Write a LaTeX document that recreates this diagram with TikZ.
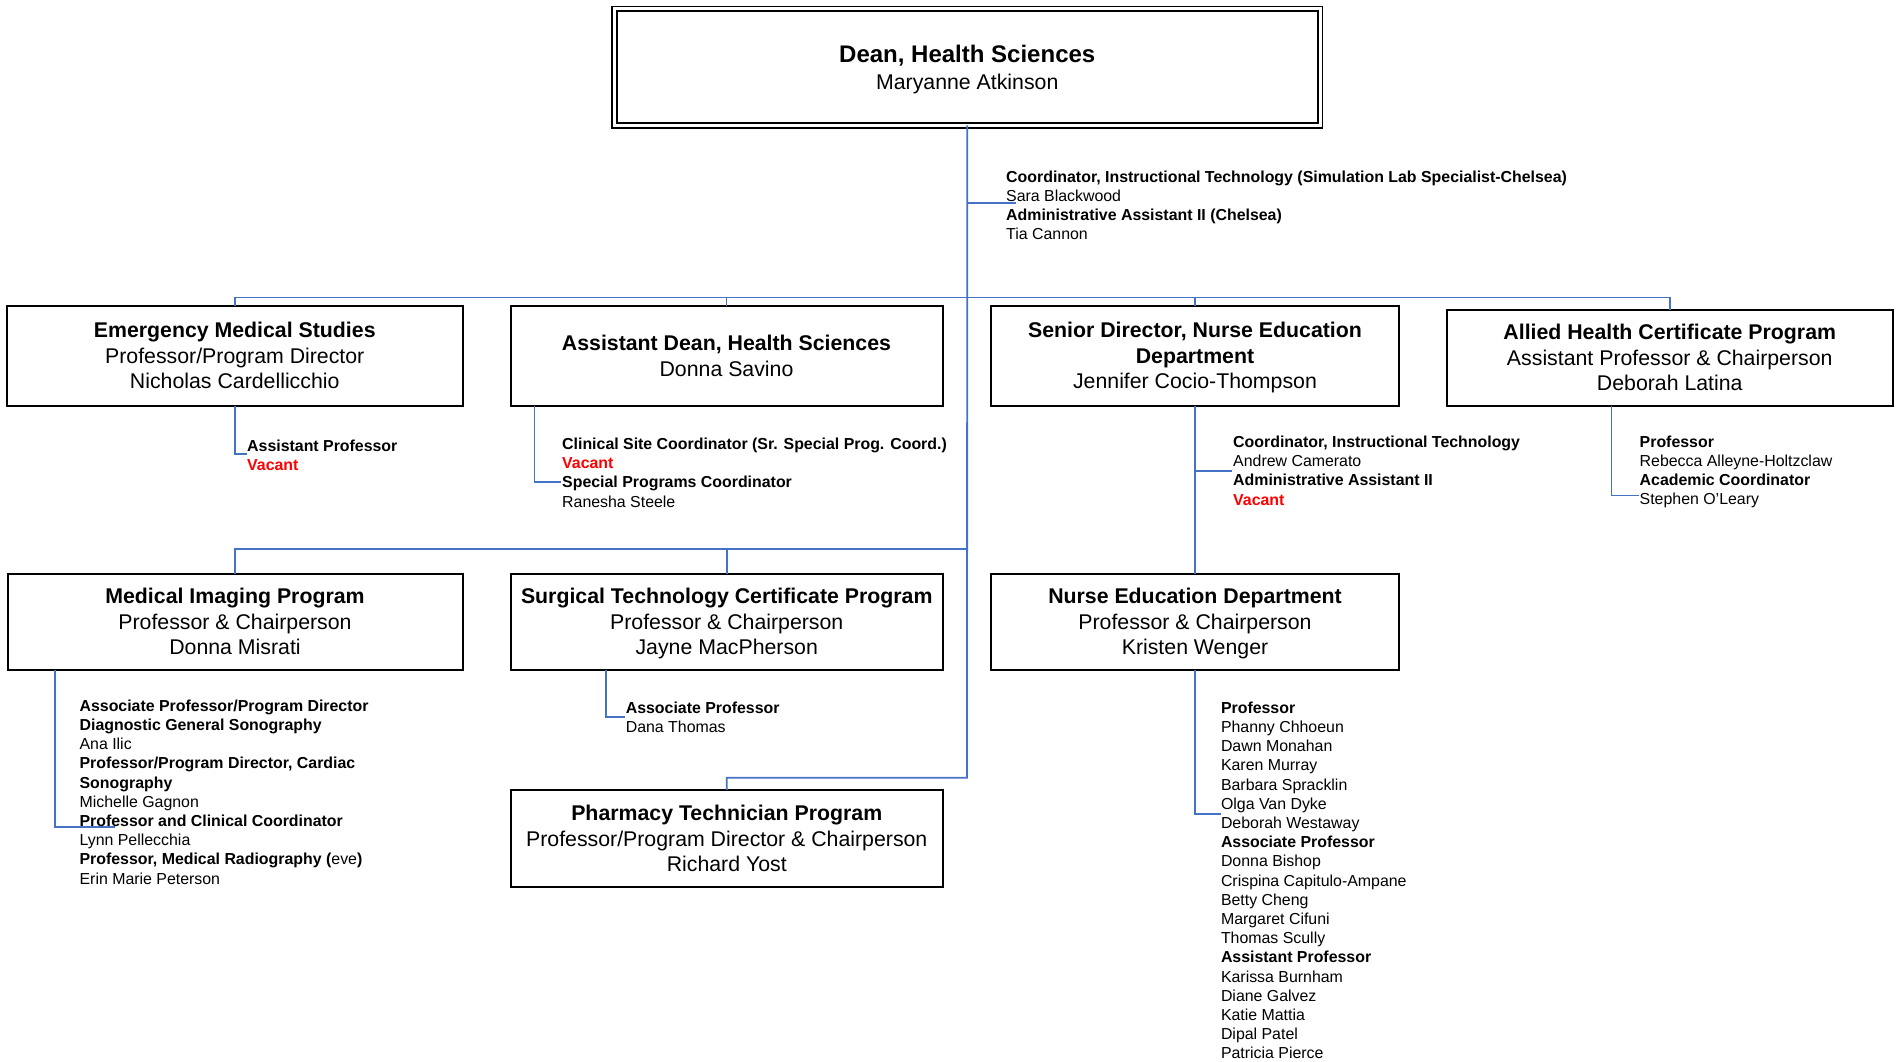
\documentclass[tikz,border=0pt]{standalone}
\usepackage{fontspec}
\setmainfont{Liberation Sans}
\definecolor{connblue}{HTML}{4472C4}
\definecolor{vred}{HTML}{FF0000}
\newcommand{\vac}{\textcolor{vred}{\textbf{Vacant}}}
\newcommand{\zdLine}[1]{\raisebox{0pt}[\height][0pt]{#1}}
\begin{document}
\begin{tikzpicture}[x=1pt,y=-1pt,
  box/.style={draw=black, line width=2pt, rectangle, inner sep=0pt, outer sep=0pt, anchor=north west, align=center, font=\fontsize{21.3}{25.5}\selectfont},
  sm/.style={inner sep=0pt, anchor=base west, align=left, font=\fontsize{15.9}{19.2}\selectfont},
  link/.style={draw=connblue, line width=1.8pt},
]
\useasboundingbox (0,0) rectangle (1897,1062);

% boxes
\node[box, double, double distance=3pt, line width=1.8pt, minimum width=705.5pt, minimum height=116.3pt, font=\fontsize{21.3}{26.7}\selectfont] (dean) at (614.5,9)
  {{\fontsize{24}{26.7}\selectfont\bfseries Dean, Health Sciences}\\\zdLine{Maryanne Atkinson}};
\node[box, minimum width=455.5pt, minimum height=99.5pt] (ems) at (7,306)
  {\textbf{Emergency Medical Studies}\\Professor/Program Director\\\zdLine{Nicholas Cardellicchio}};
\node[box, minimum width=432pt, minimum height=99.5pt] (adean) at (510.5,306)
  {\textbf{Assistant Dean, Health Sciences}\\\zdLine{Donna Savino}};
\node[box, minimum width=408pt, minimum height=99.5pt] (sdir) at (991,306)
  {\textbf{Senior Director, Nurse Education}\\\textbf{Department}\\\zdLine{Jennifer Cocio-Thompson}};
\node[box, minimum width=445.5pt, minimum height=95.5pt] (allied) at (1447,310)
  {\textbf{Allied Health Certificate Program}\\Assistant Professor \& Chairperson\\\zdLine{Deborah Latina}};
\node[box, minimum width=455pt, minimum height=95.5pt] (mi) at (7.5,574)
  {\textbf{Medical Imaging Program}\\Professor \& Chairperson\\\zdLine{Donna Misrati}};
\node[box, minimum width=431.5pt, minimum height=95.5pt] (surg) at (511,574)
  {\textbf{Surgical Technology Certificate Program}\\Professor \& Chairperson\\\zdLine{Jayne MacPherson}};
\node[box, minimum width=408pt, minimum height=95.5pt] (nurse) at (991,574)
  {\textbf{Nurse Education Department}\\Professor \& Chairperson\\\zdLine{Kristen Wenger}};
\node[box, minimum width=431.5pt, minimum height=97pt] (pharm) at (511,790)
  {\textbf{Pharmacy Technician Program}\\Professor/Program Director \& Chairperson\\\zdLine{Richard Yost}};

% junction coordinates
\coordinate (b1) at (967,297.5);
\coordinate (b2) at (967,549.3);
\coordinate (pj) at (967,777.7);
\coordinate (deanE) at (1016,202.7);
\coordinate (sdirE) at (1232,471);
\coordinate (emsE) at (247,453.7);
\coordinate (adeanE) at (561,482);
\coordinate (alliedE) at (1639,495.5);
\coordinate (miE) at (115,827);
\coordinate (surgE) at (625,717.3);
\coordinate (nurseE) at (1221,814);

% connectors
\draw[link] (dean.south) -- (pj) -| (pharm.north);
\draw[link] (ems.north) |- (allied.north |- b1) -- (allied.north);
\draw[link] (adean.north) -- (adean.north |- b1);
\draw[link] (sdir.north) -- (sdir.north |- b1);
\draw[link] (mi.north) |- (b2);
\draw[link] (surg.north) -- (surg.north |- b2);
\draw[link] (sdir.south) -- (nurse.north);
\draw[link] (deanE -| dean.south) -- (deanE);
\draw[link] (sdirE -| sdir.south) -- (sdirE);
\draw[link] (ems.south) |- (emsE);
\draw[link] (adean.south west) ++(24,0) |- (adeanE);
\draw[link] (allied.south west) ++(164.5,0) |- (alliedE);
\draw[link] (mi.south west) ++(47.5,0) |- (miE);
\draw[link] (surg.south west) ++(95,0) |- (surgE);
\draw[link] (nurse.south) |- (nurseE);

% staff lists (base anchor = baseline of last line)
\node[sm] (deanS) at (1006,239.8)
  {\textbf{Coordinator, Instructional Technology (Simulation Lab Specialist-Chelsea)}\\Sara Blackwood\\\textbf{Administrative Assistant II (Chelsea)}\\Tia Cannon};
\node[sm] (emsS) at (247,470.4)
  {\textbf{Assistant Professor}\\\vac};
\node[sm] (adeanS) at (562,507.1)
  {\textbf{Clinical Site Coordinator (Sr. Special Prog. Coord.)}\\\vac\\\textbf{Special Programs Coordinator}\\Ranesha Steele};
\node[sm] (sdirS) at (1233,505.1)
  {\textbf{Coordinator, Instructional Technology}\\Andrew Camerato\\\textbf{Administrative Assistant II}\\\vac};
\node[sm] (alliedS) at (1639.5,504.8)
  {\textbf{Professor}\\Rebecca Alleyne-Holtzclaw\\\textbf{Academic Coordinator}\\Stephen O’Leary};
\node[sm] (miS) at (79.4,884)
  {\textbf{Associate Professor/Program Director}\\\textbf{Diagnostic General Sonography}\\Ana Ilic\\\textbf{Professor/Program Director, Cardiac}\\\textbf{Sonography}\\Michelle Gagnon\\\textbf{Professor and Clinical Coordinator}\\Lynn Pellecchia\\\textbf{Professor, Medical Radiography (}eve\textbf{)}\\Erin Marie Peterson};
\node[sm] (surgS) at (625.6,732.4)
  {\textbf{Associate Professor}\\Dana Thomas};
\node[sm] (nurseS) at (1220.8,1058.8)
  {\textbf{Professor}\\Phanny Chhoeun\\Dawn Monahan\\Karen Murray\\Barbara Spracklin\\Olga Van Dyke\\Deborah Westaway\\\textbf{Associate Professor}\\Donna Bishop\\Crispina Capitulo-Ampane\\Betty Cheng\\Margaret Cifuni\\Thomas Scully\\\textbf{Assistant Professor}\\Karissa Burnham\\Diane Galvez\\Katie Mattia\\Dipal Patel\\Patricia Pierce};
\end{tikzpicture}
\end{document}
